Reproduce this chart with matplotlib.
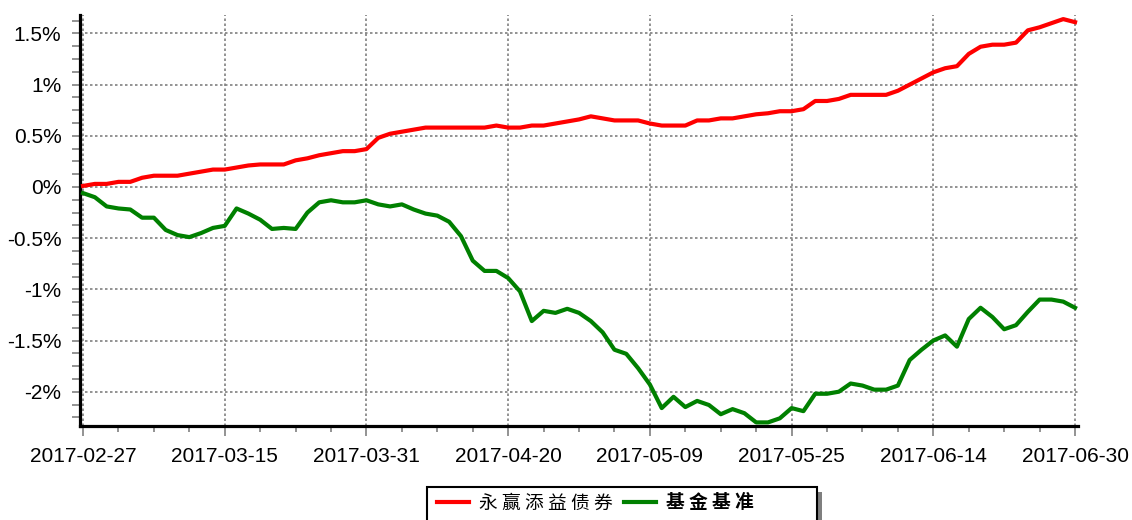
import matplotlib
matplotlib.use("Agg")
import matplotlib.pyplot as plt
from matplotlib.ticker import MultipleLocator, FixedLocator, FuncFormatter
from matplotlib.patches import Rectangle

# ---- data (percent returns, trading days 2017-02-27 .. 2017-06-30) ----
fund_name = "永 赢 添 益 债 券"
bench_name = "基 金 基 准"

tick_labels = ["2017-02-27", "2017-03-15", "2017-03-31", "2017-04-20",
               "2017-05-09", "2017-05-25", "2017-06-14", "2017-06-30"]

fund = [0.01, 0.03, 0.03, 0.05, 0.05, 0.09, 0.11, 0.11, 0.11, 0.13,
        0.15, 0.17, 0.17, 0.19, 0.21, 0.22, 0.22, 0.22, 0.26, 0.28,
        0.31, 0.33, 0.35, 0.35, 0.37, 0.48, 0.52, 0.54, 0.56, 0.58,
        0.58, 0.58, 0.58, 0.58, 0.58, 0.60, 0.58, 0.58, 0.60, 0.60,
        0.62, 0.64, 0.66, 0.69, 0.67, 0.65, 0.65, 0.65, 0.62, 0.60,
        0.60, 0.60, 0.65, 0.65, 0.67, 0.67, 0.69, 0.71, 0.72, 0.74,
        0.74, 0.76, 0.84, 0.84, 0.86, 0.90, 0.90, 0.90, 0.90, 0.94,
        1.00, 1.06, 1.12, 1.16, 1.18, 1.30, 1.37, 1.39, 1.39, 1.41,
        1.53, 1.56, 1.60, 1.64, 1.61]

bench = [-0.06, -0.10, -0.19, -0.21, -0.22, -0.30, -0.30, -0.42, -0.47, -0.49,
         -0.45, -0.40, -0.38, -0.21, -0.26, -0.32, -0.41, -0.40, -0.41, -0.25,
         -0.15, -0.13, -0.15, -0.15, -0.13, -0.17, -0.19, -0.17, -0.22, -0.26,
         -0.28, -0.34, -0.48, -0.72, -0.82, -0.82, -0.89, -1.02, -1.31, -1.21,
         -1.23, -1.19, -1.23, -1.31, -1.42, -1.59, -1.63, -1.77, -1.93, -2.16,
         -2.05, -2.15, -2.09, -2.13, -2.22, -2.17, -2.21, -2.30, -2.30, -2.26,
         -2.16, -2.19, -2.02, -2.02, -2.00, -1.92, -1.94, -1.98, -1.98, -1.94,
         -1.69, -1.59, -1.50, -1.45, -1.56, -1.29, -1.18, -1.27, -1.39, -1.35,
         -1.22, -1.10, -1.10, -1.12, -1.18]

tick_positions = [0, 12, 24, 36, 48, 60, 72, 84]
y_ticks = [-2.0, -1.5, -1.0, -0.5, 0.0, 0.5, 1.0, 1.5]

W, H = 1132, 520
fig = plt.figure(figsize=(W / 100, H / 100), dpi=100)
ax = fig.add_axes([79.5 / W, 1 - 426 / H, (1078 - 79.5) / W, (426 - 15) / H])

x = list(range(len(fund)))
l1, = ax.plot(x, fund, color="#ff0000", lw=3, solid_joinstyle="round", zorder=3)
l2, = ax.plot(x, bench, color="#008000", lw=3, solid_joinstyle="round", zorder=3)

ax.set_xlim(-0.3, 84.25)
ax.set_ylim(-2.335, 1.68)

ax.xaxis.set_major_locator(FixedLocator(tick_positions))
ax.set_xticklabels(tick_labels)
ax.xaxis.set_minor_locator(MultipleLocator(3))
ax.yaxis.set_major_locator(FixedLocator(y_ticks))
ax.yaxis.set_minor_locator(MultipleLocator(0.125))


def pct(v, _):
    s = ("%.1f" % v).rstrip("0").rstrip(".")
    if s == "-0":
        s = "0"
    return s + "%"


ax.yaxis.set_major_formatter(FuncFormatter(pct))

for lab in ax.get_xticklabels() + ax.get_yticklabels():
    lab.set_family(["Liberation Sans", "DejaVu Sans"])
    lab.set_fontsize(15)
    lab.set_color("#000000")

ax.tick_params(axis="y", which="major", length=6, width=1.2, color="#808080", pad=7, direction="out")
ax.tick_params(axis="y", which="minor", length=6, width=1.2, color="#808080", direction="out")
ax.tick_params(axis="x", which="major", length=7, width=1.2, color="#808080", pad=8, direction="out")
ax.tick_params(axis="x", which="minor", length=4, width=1.2, color="#808080", direction="out")

ax.grid(True, which="major", color="#808080", linestyle=(0, (1.5, 1.5)), linewidth=1.2, zorder=1)
ax.set_axisbelow(True)

for side in ("top", "right"):
    ax.spines[side].set_visible(False)
for side in ("left", "bottom"):
    ax.spines[side].set_linewidth(2.3)
    ax.spines[side].set_color("#000000")

# ---- legend box ----
bx0, by0, bx1 = 427, 487, 817
fig.patches.append(Rectangle(((bx0 + 5) / W, 1 - (by0 + 5 + 60) / H), (bx1 - bx0) / W, 60 / H,
                             transform=fig.transFigure, facecolor="#7f7f7f", edgecolor="none", zorder=0))
fig.patches.append(Rectangle((bx0 / W, 1 - (by0 + 60) / H), (bx1 - bx0) / W, 60 / H,
                             transform=fig.transFigure, facecolor="white", edgecolor="black",
                             linewidth=1.5, zorder=1))

leg = fig.legend([l1, l2], [fund_name, bench_name], ncol=2, frameon=False,
                 loc="center left", bbox_to_anchor=(437 / W, 1 - 503 / H),
                 borderpad=0, borderaxespad=0, handlelength=1.7, handletextpad=0.55,
                 columnspacing=0.6, prop={"family": ["Noto Sans CJK SC", "DejaVu Sans"], "size": 13.5})
leg.set_zorder(5)
leg.get_texts()[1].set_fontweight("bold")
for t in leg.get_texts():
    t.set_color("#000000")

fig.savefig("out.png", dpi=100)
